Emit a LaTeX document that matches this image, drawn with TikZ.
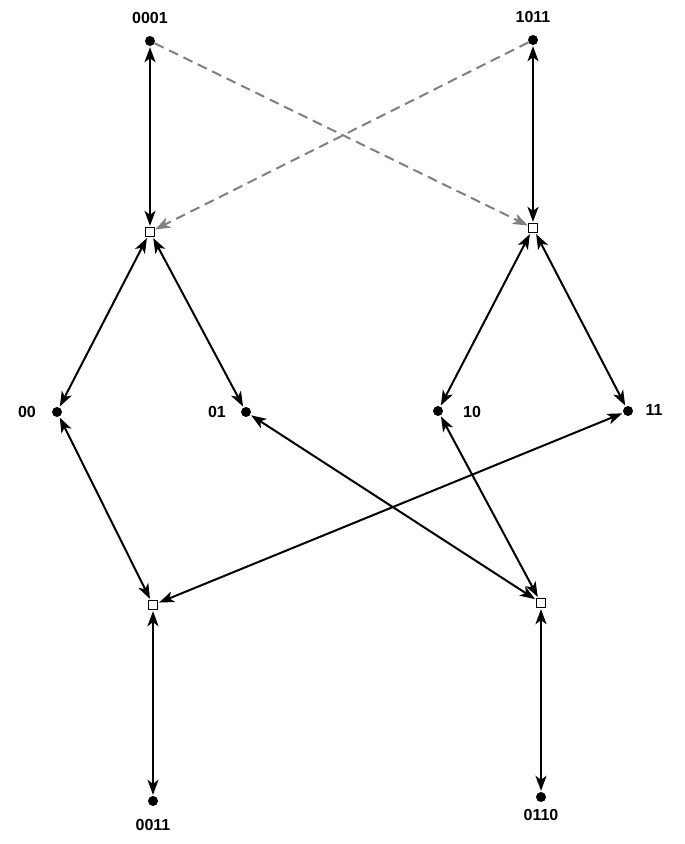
\documentclass[tikz,border=0pt]{standalone}
\usepackage{fontspec}
\setmainfont{Liberation Sans}
\usetikzlibrary{arrows.meta}
\begin{document}
\begin{tikzpicture}[x=1pt,y=-1pt,
  dotn/.style={circle,fill=black,inner sep=0pt,minimum size=10pt},
  sq/.style={rectangle,draw=black,fill=white,line width=1.3pt,inner sep=0pt,minimum size=9pt},
  lab/.style={font=\bfseries\fontsize{16}{18}\selectfont},
  link/.style={line width=2pt,{Stealth[inset=4pt,length=15pt,width=11pt]}-{Stealth[inset=4pt,length=15pt,width=11pt]},shorten <=1pt,shorten >=1pt},
  dlink/.style={line width=2pt,draw=gray,dash pattern=on 10pt off 6pt,-{Stealth[inset=4pt,length=15pt,width=11pt]}}]
\useasboundingbox (0,0) rectangle (685,844);
\node[dotn] (a) at (150,41) {}; \node[lab] at (150,18) {0001};
\node[dotn] (b) at (533,40) {}; \node[lab] at (533,17) {1011};
\node[sq] (s1) at (150,232) {};
\node[sq] (s2) at (533,228) {};
\node[dotn] (n00) at (57,412) {}; \node[lab] at (27,412) {00};
\node[dotn] (n01) at (246,412) {}; \node[lab] at (217,412) {01};
\node[dotn] (n10) at (438,411) {}; \node[lab] at (472,412) {10};
\node[dotn] (n11) at (628,411) {}; \node[lab] at (654,410) {11};
\node[sq] (s3) at (153,605) {};
\node[sq] (s4) at (541,603) {};
\node[dotn] (c) at (153,801) {}; \node[lab] at (153,825) {0011};
\node[dotn] (d) at (541,797) {}; \node[lab] at (541,815) {0110};
\draw[dlink] (a) -- (s2);
\draw[dlink] (b) -- (s1);
\draw[link] (a) -- (s1);
\draw[link] (b) -- (s2);
\draw[link] (s1) -- (n00);
\draw[link] (s1) -- (n01);
\draw[link] (s2) -- (n10);
\draw[link] (s2) -- (n11);
\draw[link] (n00) -- (s3);
\draw[link] (n11) -- (s3);
\draw[link] (n01) -- (s4);
\draw[link] (n10) -- (s4);
\draw[link] (s3) -- (c);
\draw[link] (s4) -- (d);
\end{tikzpicture}
\end{document}
